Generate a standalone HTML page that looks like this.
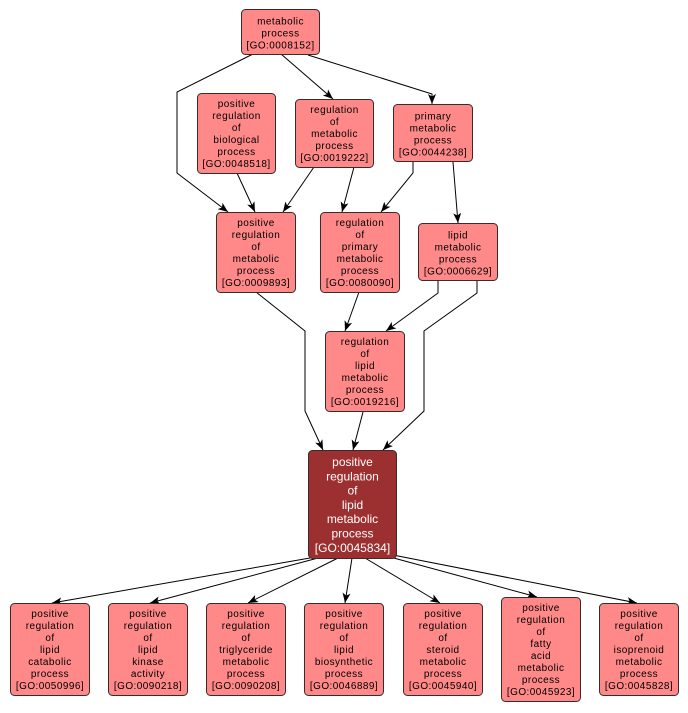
<!DOCTYPE html>
<html>
<head>
<meta charset="utf-8">
<style>
  html, body { margin: 0; padding: 0; background: #ffffff; }
  svg { display: block; }
  .n { fill: #ff8989; stroke: #3a2a2a; stroke-width: 1; }
  .m { fill: #9c2f2f; stroke: #3a2a2a; stroke-width: 1; }
  .t { font-family: "Liberation Sans", Arial, sans-serif; font-size: 10px; letter-spacing: 0.45px; fill: #000; text-anchor: middle; }
  .tm { font-family: "Liberation Sans", Arial, sans-serif; font-size: 12px; fill: #fff; text-anchor: middle; }
  .e { fill: none; stroke: #000; stroke-width: 1; }
</style>
</head>
<body>
<svg width="688" height="713" viewBox="0 0 688 713" xmlns="http://www.w3.org/2000/svg">
  <defs>
    <marker id="a" markerUnits="userSpaceOnUse" markerWidth="10" markerHeight="8" viewBox="0 0 10 8" refX="10" refY="4" orient="auto">
      <path d="M0,0 L10,4 L0,8 L2.5,4 z" fill="#000"/>
    </marker>
  </defs>

  <!-- edges -->
  <polyline class="e" marker-end="url(#a)" points="253,54 177,92 177,173 228,212"/>
  <polyline class="e" marker-end="url(#a)" points="281,54 333,99"/>
  <polyline class="e" marker-end="url(#a)" points="308,55 432,94 432,104"/>
  <polyline class="e" marker-end="url(#a)" points="237,173 255,212"/>
  <polyline class="e" marker-end="url(#a)" points="314,167 283,212"/>
  <polyline class="e" marker-end="url(#a)" points="354,167 342,212"/>
  <polyline class="e" marker-end="url(#a)" points="413,162 413,173 381,212"/>
  <polyline class="e" marker-end="url(#a)" points="453,162 458,223"/>
  <polyline class="e" marker-end="url(#a)" points="256,292 305,331 305,411 323,450"/>
  <polyline class="e" marker-end="url(#a)" points="359,292 345,331"/>
  <polyline class="e" marker-end="url(#a)" points="438,281 438,293 386,331"/>
  <polyline class="e" marker-end="url(#a)" points="477,281 477,293 424,331 424,411 383,450"/>
  <polyline class="e" marker-end="url(#a)" points="363,412 353,450"/>

  <polyline class="e" marker-end="url(#a)" points="310,558 52,603"/>
  <polyline class="e" marker-end="url(#a)" points="318,558 150,603"/>
  <polyline class="e" marker-end="url(#a)" points="338,558 248,603"/>
  <polyline class="e" marker-end="url(#a)" points="352,558 345,603"/>
  <polyline class="e" marker-end="url(#a)" points="365,558 440,603"/>
  <polyline class="e" marker-end="url(#a)" points="390,557 537,597"/>
  <polyline class="e" marker-end="url(#a)" points="393,555 637,603"/>

  <!-- nodes -->
  <rect class="n" x="241.5" y="9.5" width="78" height="45" rx="4"/>
  <text class="t"><tspan x="280.5" y="24.5">metabolic</tspan><tspan x="280.5" y="36.5">process</tspan><tspan x="280.5" y="48.5">[GO:0008152]</tspan></text>

  <rect class="n" x="197.5" y="93.5" width="78" height="80" rx="4"/>
  <text class="t"><tspan x="236.5" y="107">positive</tspan><tspan x="236.5" y="119">regulation</tspan><tspan x="236.5" y="131">of</tspan><tspan x="236.5" y="143">biological</tspan><tspan x="236.5" y="155">process</tspan><tspan x="236.5" y="167">[GO:0048518]</tspan></text>

  <rect class="n" x="295.5" y="99.5" width="78" height="68" rx="4"/>
  <text class="t"><tspan x="334.5" y="113">regulation</tspan><tspan x="334.5" y="125">of</tspan><tspan x="334.5" y="137">metabolic</tspan><tspan x="334.5" y="149">process</tspan><tspan x="334.5" y="161">[GO:0019222]</tspan></text>

  <rect class="n" x="393.5" y="104.5" width="79" height="57" rx="4"/>
  <text class="t"><tspan x="433" y="119.5">primary</tspan><tspan x="433" y="131.5">metabolic</tspan><tspan x="433" y="143.5">process</tspan><tspan x="433" y="155.5">[GO:0044238]</tspan></text>

  <rect class="n" x="216.5" y="212.5" width="79" height="80" rx="4"/>
  <text class="t"><tspan x="256" y="226">positive</tspan><tspan x="256" y="238">regulation</tspan><tspan x="256" y="250">of</tspan><tspan x="256" y="262">metabolic</tspan><tspan x="256" y="274">process</tspan><tspan x="256" y="286">[GO:0009893]</tspan></text>

  <rect class="n" x="320.5" y="212.5" width="79" height="80" rx="4"/>
  <text class="t"><tspan x="360" y="226">regulation</tspan><tspan x="360" y="238">of</tspan><tspan x="360" y="250">primary</tspan><tspan x="360" y="262">metabolic</tspan><tspan x="360" y="274">process</tspan><tspan x="360" y="286">[GO:0080090]</tspan></text>

  <rect class="n" x="418.5" y="223.5" width="79" height="57" rx="4"/>
  <text class="t"><tspan x="458" y="238.5">lipid</tspan><tspan x="458" y="250.5">metabolic</tspan><tspan x="458" y="262.5">process</tspan><tspan x="458" y="274.5">[GO:0006629]</tspan></text>

  <rect class="n" x="325.5" y="331.5" width="79" height="80" rx="4"/>
  <text class="t"><tspan x="365" y="345">regulation</tspan><tspan x="365" y="357">of</tspan><tspan x="365" y="369">lipid</tspan><tspan x="365" y="381">metabolic</tspan><tspan x="365" y="393">process</tspan><tspan x="365" y="405">[GO:0019216]</tspan></text>

  <rect class="m" x="308.5" y="450.5" width="88" height="108" rx="4"/>
  <text class="tm"><tspan x="352.5" y="466">positive</tspan><tspan x="352.5" y="480.3">regulation</tspan><tspan x="352.5" y="494.6">of</tspan><tspan x="352.5" y="508.9">lipid</tspan><tspan x="352.5" y="523.2">metabolic</tspan><tspan x="352.5" y="537.5">process</tspan><tspan x="352.5" y="551.8">[GO:0045834]</tspan></text>

  <rect class="n" x="10.5" y="603.5" width="79" height="92" rx="4"/>
  <text class="t"><tspan x="50" y="617">positive</tspan><tspan x="50" y="629">regulation</tspan><tspan x="50" y="641">of</tspan><tspan x="50" y="653">lipid</tspan><tspan x="50" y="665">catabolic</tspan><tspan x="50" y="677">process</tspan><tspan x="50" y="689">[GO:0050996]</tspan></text>

  <rect class="n" x="108.5" y="603.5" width="79" height="92" rx="4"/>
  <text class="t"><tspan x="148" y="617">positive</tspan><tspan x="148" y="629">regulation</tspan><tspan x="148" y="641">of</tspan><tspan x="148" y="653">lipid</tspan><tspan x="148" y="665">kinase</tspan><tspan x="148" y="677">activity</tspan><tspan x="148" y="689">[GO:0090218]</tspan></text>

  <rect class="n" x="206.5" y="603.5" width="79" height="92" rx="4"/>
  <text class="t"><tspan x="246" y="617">positive</tspan><tspan x="246" y="629">regulation</tspan><tspan x="246" y="641">of</tspan><tspan x="246" y="653">triglyceride</tspan><tspan x="246" y="665">metabolic</tspan><tspan x="246" y="677">process</tspan><tspan x="246" y="689">[GO:0090208]</tspan></text>

  <rect class="n" x="304.5" y="603.5" width="79" height="92" rx="4"/>
  <text class="t"><tspan x="344" y="617">positive</tspan><tspan x="344" y="629">regulation</tspan><tspan x="344" y="641">of</tspan><tspan x="344" y="653">lipid</tspan><tspan x="344" y="665">biosynthetic</tspan><tspan x="344" y="677">process</tspan><tspan x="344" y="689">[GO:0046889]</tspan></text>

  <rect class="n" x="403.5" y="603.5" width="79" height="92" rx="4"/>
  <text class="t"><tspan x="443" y="617">positive</tspan><tspan x="443" y="629">regulation</tspan><tspan x="443" y="641">of</tspan><tspan x="443" y="653">steroid</tspan><tspan x="443" y="665">metabolic</tspan><tspan x="443" y="677">process</tspan><tspan x="443" y="689">[GO:0045940]</tspan></text>

  <rect class="n" x="501.5" y="597.5" width="79" height="104" rx="4"/>
  <text class="t"><tspan x="541" y="611">positive</tspan><tspan x="541" y="623">regulation</tspan><tspan x="541" y="635">of</tspan><tspan x="541" y="647">fatty</tspan><tspan x="541" y="659">acid</tspan><tspan x="541" y="671">metabolic</tspan><tspan x="541" y="683">process</tspan><tspan x="541" y="695">[GO:0045923]</tspan></text>

  <rect class="n" x="599.5" y="603.5" width="79" height="92" rx="4"/>
  <text class="t"><tspan x="639" y="617">positive</tspan><tspan x="639" y="629">regulation</tspan><tspan x="639" y="641">of</tspan><tspan x="639" y="653">isoprenoid</tspan><tspan x="639" y="665">metabolic</tspan><tspan x="639" y="677">process</tspan><tspan x="639" y="689">[GO:0045828]</tspan></text>
</svg>
</body>
</html>
